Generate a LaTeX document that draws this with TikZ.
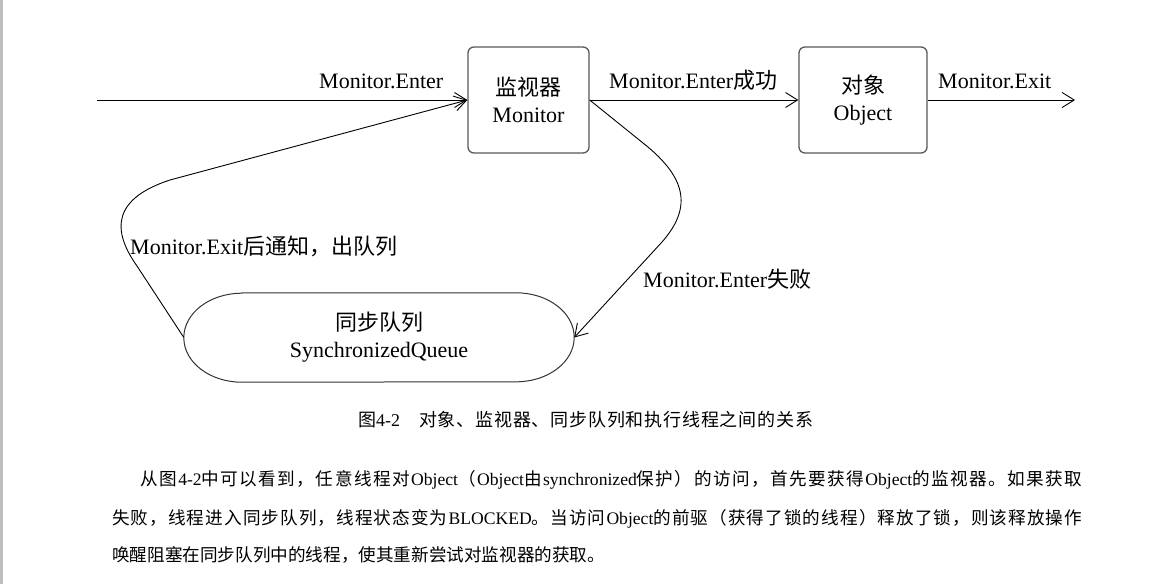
\documentclass[tikz,border=0pt]{standalone}
\usepackage{fontspec}
\setmainfont{Liberation Serif}
\newfontfamily\cjk{Noto Sans CJK SC}
\usetikzlibrary{arrows.meta}
% spread CJK characters with stretchable glue after each one
\def\C#1{{\cjk\Caux#1\relax}}
\def\Caux#1{\ifx#1\relax\else#1\hskip0pt plus 1pt\expandafter\Caux\fi}
\begin{document}
\begin{tikzpicture}[x=1pt,y=-1pt,
  box/.style={draw=black!65, line width=1.3pt, rounded corners=6pt, minimum height=106pt, align=center, inner sep=0pt, font=\fontsize{22}{27}\selectfont},
  lbl/.style={font=\fontsize{22}{26}\selectfont, inner sep=0pt},
  para/.style={font=\fontsize{17.6}{20}\selectfont, inner sep=0pt, anchor=base west},
  conn/.style={line width=0.9pt, -{Straight Barb[length=12pt,width=15pt,line width=0.9pt]}}
]
\useasboundingbox[fill=white] (0,0) rectangle (1156,584);
\fill[black!25] (0,0) rectangle (3,584);

% nodes
\node[box, minimum width=121pt] (mon) at (528.5,100) {{\cjk 监视器}\\Monitor};
\node[box, minimum width=128pt] (obj) at (863,100) {{\cjk 对象}\\Object};
\node[minimum width=390pt, minimum height=89pt, align=center, inner sep=0pt, font=\fontsize{22}{27}\selectfont] (q) at (379,337.5) {{\cjk 同步队列}\\SynchronizedQueue};
\draw[line width=1pt, black!80] ([xshift=58pt]q.north west) -- ([xshift=-58pt]q.north east)
  arc[start angle=90, end angle=-90, x radius=58pt, y radius=44.5pt]
  -- ([xshift=58pt]q.south west)
  arc[start angle=270, end angle=90, x radius=58pt, y radius=44.5pt] -- cycle;

\coordinate (in) at (97,100);
\coordinate (out) at (1075,100);

% connectors
\draw[conn] (in) -- (mon.west);
\draw[conn] (mon.east) -- (obj.west);
\draw[conn] (obj.east) -- (out);
\draw[conn] (mon.east) -- (643,143) .. controls (690,180) and (690,210) .. (662,242) -- (q.east);
\draw[conn] (q.west) -- (137,266) .. controls (110,228) and (115,198) .. (170,180) -- (mon.west);

% labels
\node[lbl, anchor=base west] (l1) at (319,88) {Monitor.Enter};
\node[lbl, anchor=base west] (l2) at (609,88) {Monitor.Enter{\cjk 成功}};
\node[lbl, anchor=base west] (l3) at (938,88) {Monitor.Exit};
\node[lbl, anchor=base west] (l4) at (130,254) {Monitor.Exit{\cjk 后通知，出队列}};
\node[lbl, anchor=base west] (l5) at (643,287) {Monitor.Enter{\cjk 失败}};

% caption
\node[para, font=\fontsize{18}{20}\selectfont] (cap) at (358,426) {{\cjk 图}4-2\hspace{19pt}\hbox to 394pt{\C{对象、监视器、同步队列和执行线程之间的关系}\unskip}};

% paragraph
\node[para] (p1) at (140,485) {\hbox to 942pt{\C{从图}4-2\C{中可以看到，任意线程对}Object\C{（}Object\C{由}synchronized\C{保护）的访问，首先要获得}Object\C{的监视器。如果获取}\unskip}};
\node[para] (p2) at (112,524) {\hbox to 970pt{\C{失败，线程进入同步队列，线程状态变为}BLOCKED\C{。当访问}Object\C{的前驱（获得了锁的线程）释放了锁，则该释放操作}\unskip}};
\node[para] (p3) at (112,561) {{\cjk 唤醒阻塞在同步队列中的线程，使其重新尝试对监视器的获取。}};
\end{tikzpicture}
\end{document}
